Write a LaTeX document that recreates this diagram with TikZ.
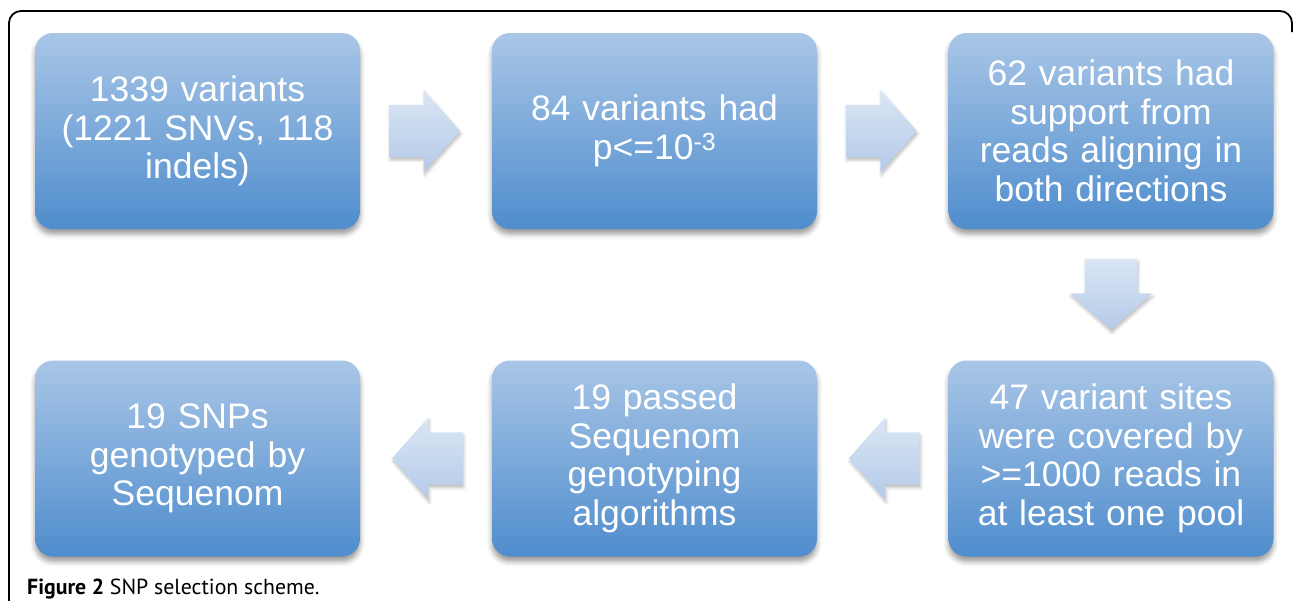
\documentclass[tikz,border=0pt]{standalone}
\usepackage{fontspec}
\setmainfont{Liberation Sans}
\newfontfamily\captionfont{PT Sans}
\usetikzlibrary{shapes.arrows,shadows.blur,calc}

\definecolor{boxtop}{HTML}{A9C6E7}
\definecolor{boxbot}{HTML}{4F8DCD}
\definecolor{arrtop}{HTML}{DAE6F4}
\definecolor{arrbot}{HTML}{B4CAE8}

\tikzset{
  stepbox/.style={rectangle, rounded corners=18pt,
    minimum width=325pt, minimum height=196pt, text width=315pt,
    align=center, inner sep=0pt, text=white,
    top color=boxtop, bottom color=boxbot,
    font=\fontsize{35.5}{38.5}\selectfont,
    blur shadow={shadow xshift=0pt, shadow yshift=-5pt,
      shadow blur radius=5pt, shadow opacity=40}},
  blockarrow/.style={single arrow, inner sep=0pt,
    minimum height=71pt, minimum width=82pt,
    single arrow head extend=15pt, single arrow tip angle=97,
    top color=arrtop, bottom color=arrbot,
    blur shadow={shadow xshift=1pt, shadow yshift=-3pt,
      shadow blur radius=3pt, shadow opacity=25}}
}
% shaft thickness of the block arrows
\newcommand{\hshaft}{\rule{0pt}{52pt}}
\newcommand{\vshaft}{\rule{52pt}{0pt}}

\begin{document}
\begin{tikzpicture}[x=1pt,y=-1pt]
  \useasboundingbox (0,0) rectangle (1293,600);
  % frame
  \draw[line width=1.8pt, rounded corners=12pt]
    (9,605) -- (9,11) -- (1292,11) -- (1292,32);

  % selection steps
  \node[stepbox] (s1) at (197.5,131) {1339 variants\\(1221 SNVs, 118\\indels)};
  \node[stepbox] (s2) at (654.5,131) {84 variants had\\p<=10\textsuperscript{-3}};
  \node[stepbox] (s3) at (1111,131) {62 variants had\\support from\\reads aligning in\\both directions};
  \node[stepbox] (s4) at (1111,458.5) {47 variant sites\\were covered by\\>=1000 reads in\\at least one pool};
  \node[stepbox] (s5) at (654.5,458.5) {19 passed\\Sequenom\\genotyping\\algorithms};
  \node[stepbox] (s6) at (197.5,458.5) {19 SNPs\\genotyped by\\Sequenom};

  % block arrows between steps (the node centre sits in the shaft, so pull it back)
  \node[blockarrow] (a12) at ($(s1.east)!0.5!(s2.west)+(-13,0)$) {\hshaft};
  \node[blockarrow] (a23) at ($(s2.east)!0.5!(s3.west)+(-13,0)$) {\hshaft};
  \node[blockarrow, shape border rotate=270] (a34) at ($(s3.south)!0.5!(s4.north)+(0,-12)$) {\vshaft};
  \node[blockarrow, shape border rotate=180] (a45) at ($(s4.west)!0.5!(s5.east)+(13,0)$) {\hshaft};
  \node[blockarrow, shape border rotate=180] (a56) at ($(s5.west)!0.5!(s6.east)+(13,0)$) {\hshaft};

  \node[anchor=base west, inner sep=0pt,
    font=\captionfont\fontsize{21.8}{25}\selectfont] (cap) at (27,594)
    {\textbf{Figure 2} SNP selection scheme.};
\end{tikzpicture}
\end{document}
